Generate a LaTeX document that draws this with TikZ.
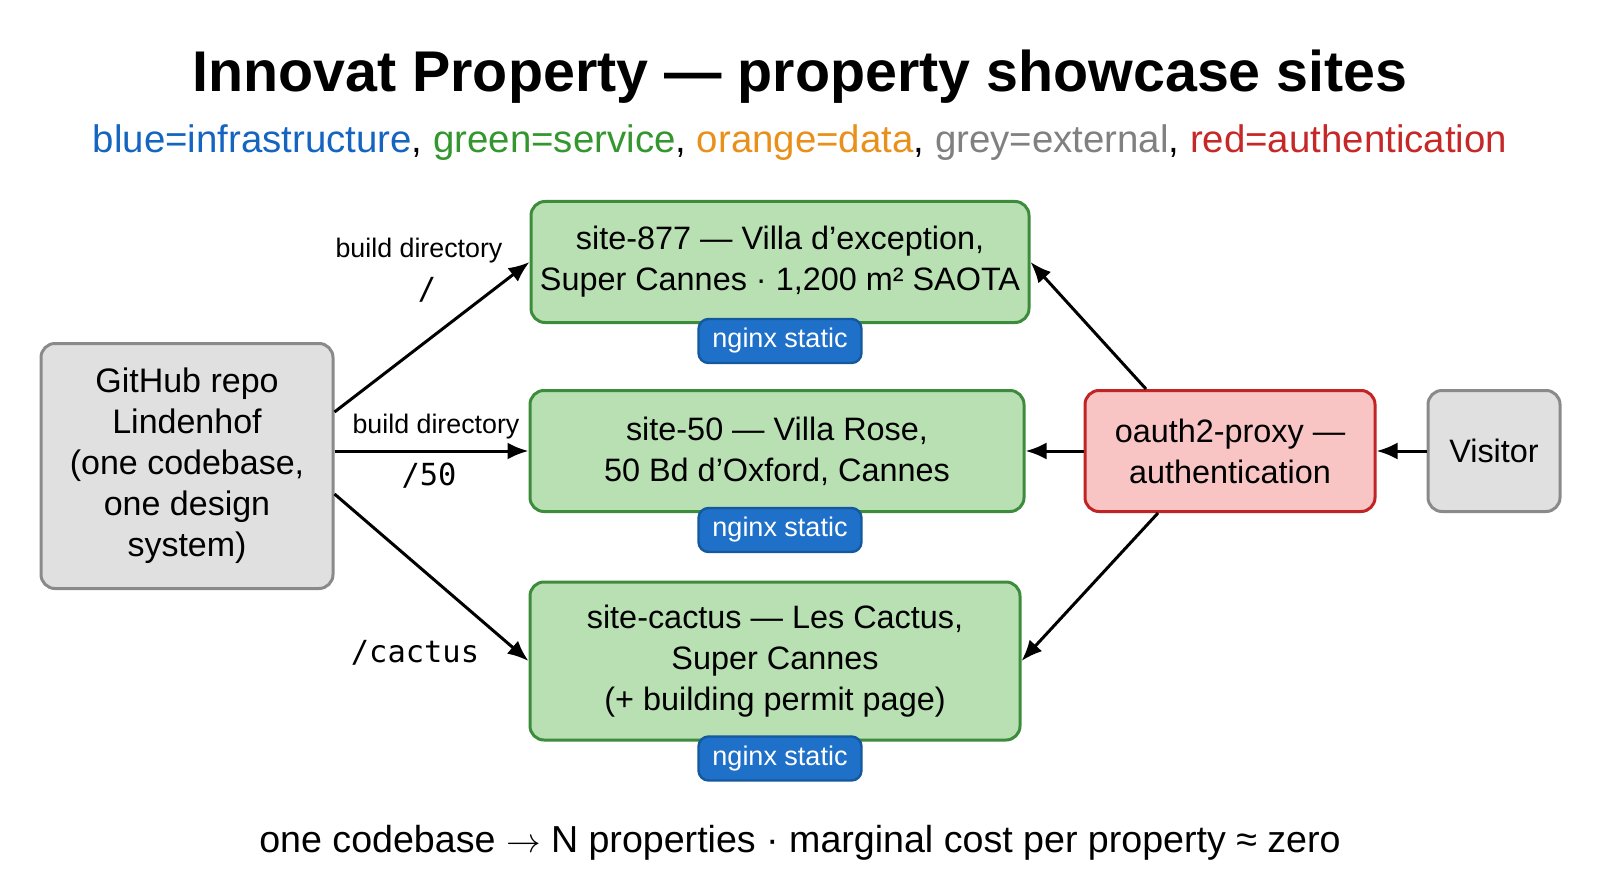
\documentclass[tikz,border=0pt]{standalone}
\usepackage{fontspec}
\setmainfont{Liberation Sans}
\setmonofont{DejaVu Sans Mono}
\usepackage{xcolor}
\usetikzlibrary{arrows.meta,positioning}
\definecolor{SGreen}{HTML}{B8E0B2}
\definecolor{SGreenD}{HTML}{3C8C3C}
\definecolor{XGrey}{HTML}{E0E0E0}
\definecolor{XGreyD}{HTML}{8A8A8A}
\definecolor{ARed}{HTML}{F8C4C4}
\definecolor{ARedD}{HTML}{C02424}
\definecolor{IBlue}{HTML}{1F70C8}
\definecolor{IBlueD}{HTML}{14589E}
\definecolor{LBlue}{HTML}{1565C0}
\definecolor{LGreen}{HTML}{34962E}
\definecolor{LOrange}{HTML}{E8901A}
\definecolor{LGrey}{HTML}{808080}
\definecolor{LRed}{HTML}{C62828}

\begin{document}
\begin{tikzpicture}[x=0.5pt,y=-0.5pt,
  box/.style={rounded corners=7pt,line width=1.5pt,align=center,inner sep=0pt,
    font=\fontsize{16.2}{20.5}\selectfont},
  svc/.style={box,draw=SGreenD,fill=SGreen},
  ext/.style={box,draw=XGreyD,fill=XGrey},
  auth/.style={box,draw=ARedD,fill=ARed},
  tag/.style={draw=IBlueD,fill=IBlue,text=white,rounded corners=5pt,line width=1.2pt,
    minimum width=81.5pt,minimum height=22pt,inner sep=0pt,font=\fontsize{13.5}{16}\selectfont},
  lbl/.style={font=\fontsize{13.4}{16}\selectfont,inner sep=1pt},
  path/.style={font=\ttfamily\fontsize{15.2}{18}\selectfont,inner sep=1pt},
  a/.style={-{Latex[length=10.5pt,width=8.5pt]},line width=1.5pt,color=black}
]
  \useasboundingbox (0,0) rectangle (1600,893);
  \node[font=\bfseries\fontsize{28.7}{34}\selectfont] (title) at (800,77)
    {Innovat Property — property showcase sites};
  \node[font=\fontsize{19.2}{23}\selectfont] (legend) at (800,143)
    {\textcolor{LBlue}{blue=infrastructure}, \textcolor{LGreen}{green=service},
     \textcolor{LOrange}{orange=data}, \textcolor{LGrey}{grey=external},
     \textcolor{LRed}{red=authentication}};

  \node[ext,minimum width=146pt,minimum height=122.5pt,font=\fontsize{17}{20.5}\selectfont]
    (repo) at (187,466) {GitHub repo\\Lindenhof\\(one codebase,\\one design\\system)};
  \node[svc,minimum width=249pt,minimum height=60.5pt] (s877) at (780,262)
    {site-877 — Villa d’exception,\\Super Cannes · 1,200 m² SAOTA};
  \node[svc,minimum width=247pt,minimum height=60.5pt] (s50) at (777,451)
    {site-50 — Villa Rose,\\50 Bd d’Oxford, Cannes};
  \node[svc,minimum width=245pt,minimum height=79pt] (scactus) at (775,661)
    {site-cactus — Les Cactus,\\Super Cannes\\(+ building permit page)};
  \foreach \s in {s877,s50,scactus}
    {\node[tag,yshift=-8.5pt] (\s-tag) at (\s.south -| s877.south) {nginx static};}
  \node[auth,minimum width=145pt,minimum height=60.5pt] (proxy) at (1230,451)
    {oauth2-proxy —\\authentication};
  \node[ext,minimum width=66pt,minimum height=60.5pt] (visitor) at (1494,451) {Visitor};

  \draw[a] ([yshift=27pt]repo.east) -- (s877.west);
  \draw[a] (repo.east |- s50.west) -- (s50.west);
  \draw[a] ([yshift=-14pt]repo.east) -- (scactus.west);
  \draw[a] ([xshift=-42pt]proxy.north) -- (s877.east);
  \draw[a] (proxy.west) -- (s50.east);
  \draw[a] ([xshift=-36pt]proxy.south) -- (scactus.east);
  \draw[a] (visitor.west) -- (proxy.east);

  \node[lbl] (l877) at (419,251) {build directory};
  \node[path] (p877) at (427,290) {/};
  \node[lbl] (l50) at (436,427) {build directory};
  \node[path] (p50) at (429,476) {/50};
  \node[path] (pcactus) at (415,653) {/cactus};

  \node[font=\fontsize{18.8}{22}\selectfont] (footer) at (800,843)
    {one codebase $\rightarrow$ N properties · marginal cost per property ≈ zero};
\end{tikzpicture}
\end{document}
